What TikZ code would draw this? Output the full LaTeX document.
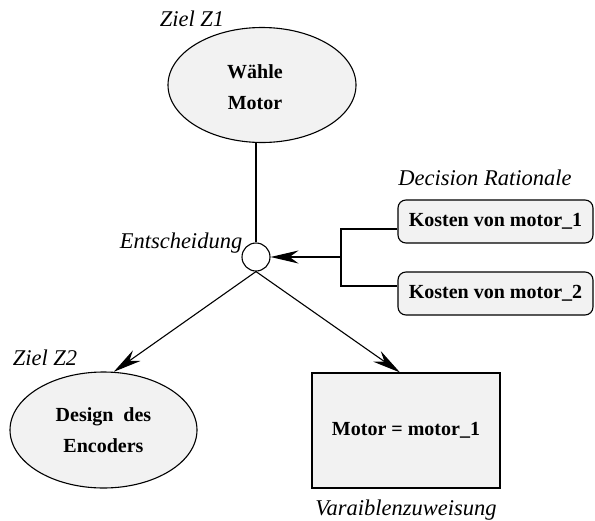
\documentclass[tikz,border=0pt]{standalone}
\usepackage{fontspec}
\setmainfont{Liberation Serif}
\usetikzlibrary{shapes.geometric,arrows.meta}
\begin{document}
\begin{tikzpicture}[x=1pt,y=-1pt,
  line width=1.1pt,
  boldtext/.style={font=\fontsize{20}{31}\selectfont\bfseries},
  goal/.style={ellipse,draw,fill=black!5,inner sep=0pt,align=center,boldtext},
  rationale/.style={rectangle,rounded corners=8pt,draw,fill=black!5,inner sep=0pt,
    minimum width=195pt,minimum height=43pt,boldtext},
  assign/.style={rectangle,draw,fill=black!5,inner sep=0pt,
    minimum width=188pt,minimum height=115pt,boldtext},
  tag/.style={font=\fontsize{22.5}{26}\selectfont\itshape,inner sep=0pt},
  arr/.style={-{Stealth[length=28pt,width=13pt,inset=9pt]}}
]
\useasboundingbox (0,0) rectangle (595,520);

% goal Z1 (its text sits a little left of the ellipse centre) and decision point
\node[goal,minimum width=188pt,minimum height=115pt] (z1) at (262,85) {};
\node[align=center,boldtext,inner sep=0pt] (z1text) at (255,87) {W\"ahle\\Motor};
\node[tag] (z1tag) at (192,19) {Ziel Z1};
\node[circle,draw,fill=white,inner sep=0pt,minimum size=28pt] (dec) at (256,257) {};
\node[tag] (dectag) at (181,243) {Entscheidung};

% decision rationale
\node[rationale] (k1) at (495.5,221.5) {Kosten von motor\_1};
\node[rationale] (k2) at (495.5,293.5) {Kosten von motor\_2};
\node[tag] (drtag) at (485,178) {Decision Rationale};
\coordinate (b1) at (341,229);
\coordinate (b2) at (341,286);
\coordinate (bm) at (341,257);

% results
\node[goal,minimum width=187pt,minimum height=116pt] (z2) at (103.5,430) {Design\ \ des\\Encoders};
\node[tag] (z2tag) at (45,358) {Ziel Z2};
\node[assign] (mbox) at (406,430.5) {Motor = motor\_1};
\node[tag] (vtag) at (406,510) {Varaiblenzuweisung};

% connectors
\draw (dec.north |- z1.south) -- (dec.north);
\draw (b1 -| k1.west) -- (b1) -- (b2) -- (b2 -| k2.west);
\draw[arr] (bm) -- (dec.east);
\draw[arr] (dec.south) -- (z2.80);
\draw[arr] (dec.south) -- ([xshift=-6pt]mbox.north);
\end{tikzpicture}
\end{document}
